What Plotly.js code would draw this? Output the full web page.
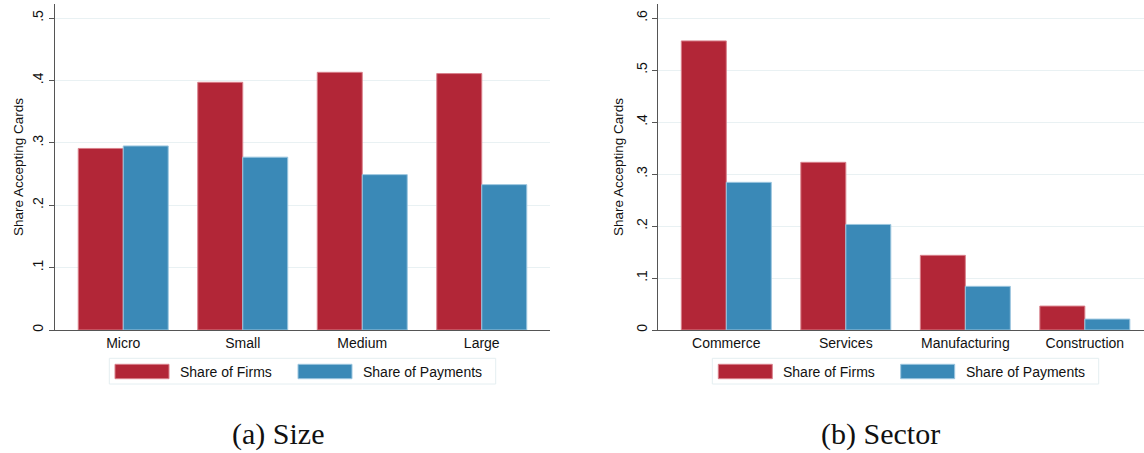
<!DOCTYPE html>
<html>
<head>
<meta charset="utf-8">
<script src="https://cdn.plot.ly/plotly-3.0.1.min.js"></script>
<style>
  html, body { margin: 0; padding: 0; background: #ffffff; }
  #chart { width: 1144px; height: 453px; }
</style>
</head>
<body>
<div id="chart"></div>
<script>
// Share of firms / payments accepting cards, by firm size and by sector
const sizeCategories = ["Micro", "Small", "Medium", "Large"];
const sizeFirms = [0.291, 0.397, 0.413, 0.411];
const sizePayments = [0.295, 0.277, 0.249, 0.233];

const sectorCategories = ["Commerce", "Services", "Manufacturing", "Construction"];
const sectorFirms = [0.556, 0.3225, 0.1436, 0.046];
const sectorPayments = [0.284, 0.203, 0.084, 0.021];

const seriesNames = ["Share of Firms", "Share of Payments"];
const sizeTickVals = [0, 0.1, 0.2, 0.3, 0.4, 0.5];
const sizeTickText = ["0", ".1", ".2", ".3", ".4", ".5"];
const sectorTickVals = [0, 0.1, 0.2, 0.3, 0.4, 0.5, 0.6];
const sectorTickText = ["0", ".1", ".2", ".3", ".4", ".5", ".6"];
const yTitle = "Share Accepting Cards";
const captions = ["(a) Size", "(b) Sector"];

const W = 1144, H = 453;
const RED = "#b22637", BLUE = "#3a89b7";
const RED_EDGE = "#d9808b", BLUE_EDGE = "#9cc6df";
const AXIS = "#555555", GRID = "#e9f1f3";
const SANS = "'Liberation Sans', Arial, Helvetica, sans-serif";
const px = x => x / W;
const py = y => 1 - y / H;

function bar(x, y, name, color, edge, xa, ya) {
  return {
    type: "bar", x: x, y: y, name: name, xaxis: xa, yaxis: ya,
    marker: { color: color, line: { color: edge, width: 1 } },
    showlegend: false, hoverinfo: "x+y+name"
  };
}

const data = [
  bar(sizeCategories, sizeFirms, seriesNames[0], RED, RED_EDGE, "x", "y"),
  bar(sizeCategories, sizePayments, seriesNames[1], BLUE, BLUE_EDGE, "x", "y"),
  bar(sectorCategories, sectorFirms, seriesNames[0], RED, RED_EDGE, "x2", "y2"),
  bar(sectorCategories, sectorPayments, seriesNames[1], BLUE, BLUE_EDGE, "x2", "y2")
];

function xAxis(domain, range) {
  return {
    domain: domain, range: range, type: "category",
    showline: true, linecolor: AXIS, linewidth: 1,
    ticks: "", showgrid: false, zeroline: false,
    tickfont: { family: SANS, size: 14, color: "#111" },
    fixedrange: true
  };
}
function yAxis(range, vals, text, anchor) {
  return {
    domain: [py(330), py(4)], range: range, anchor: anchor,
    tickvals: vals, ticktext: text, tickangle: -90,
    ticks: "outside", ticklen: 5, tickcolor: AXIS, tickwidth: 1,
    showline: true, linecolor: AXIS, linewidth: 1,
    showgrid: true, gridcolor: GRID, gridwidth: 1, zeroline: false,
    tickfont: { family: SANS, size: 14, color: "#111" },
    fixedrange: true
  };
}

const shapes = [];
const annotations = [];

// Hand-built legends below each panel
function legend(box, swatches, texts) {
  shapes.push({
    type: "rect", xref: "paper", yref: "paper",
    x0: px(box[0]), x1: px(box[1]), y0: py(box[3]), y1: py(box[2]),
    line: { color: "#e4eef1", width: 1 }, fillcolor: "rgba(0,0,0,0)"
  });
  const colors = [[RED, RED_EDGE], [BLUE, BLUE_EDGE]];
  swatches.forEach((sx, i) => {
    shapes.push({
      type: "rect", xref: "paper", yref: "paper",
      x0: px(sx), x1: px(sx + 54), y0: py(378.7), y1: py(364.3),
      fillcolor: colors[i][0], line: { color: colors[i][1], width: 1 }
    });
    annotations.push({
      xref: "paper", yref: "paper", x: px(texts[i]), y: py(371.5),
      xanchor: "left", yanchor: "middle", showarrow: false,
      text: seriesNames[i], font: { family: SANS, size: 14, color: "#111" }
    });
  });
}
legend([109.3, 495.7, 358.3, 384], [115, 298], [178.3, 360.7]);
legend([712.3, 1098.7, 358.3, 384], [718.3, 900.7], [781, 963.5]);

// Vertical axis titles
[18, 618].forEach(x => {
  annotations.push({
    xref: "paper", yref: "paper", x: px(x), y: py(167),
    xanchor: "center", yanchor: "middle", textangle: -90, showarrow: false,
    text: yTitle, font: { family: SANS, size: 13.5, color: "#111" }
  });
});

// Panel captions
[[278, captions[0]], [880.7, captions[1]]].forEach(([x, t]) => {
  annotations.push({
    xref: "paper", yref: "paper", x: px(x), y: py(434),
    xanchor: "center", yanchor: "middle", showarrow: false,
    text: t, font: { family: "'Liberation Serif', 'Times New Roman', serif", size: 30, color: "#111" }
  });
});

const layout = {
  width: W, height: H,
  margin: { l: 0, r: 0, t: 0, b: 0 },
  paper_bgcolor: "#ffffff", plot_bgcolor: "#ffffff",
  barmode: "group", bargap: 0.247, bargroupgap: 0,
  showlegend: false,
  xaxis: xAxis([px(55), px(550)], [-0.571, 3.571]),
  yaxis: yAxis([0, 0.5225], sizeTickVals, sizeTickText, "x"),
  xaxis2: Object.assign(xAxis([px(658.3), 1], [-0.569, 3.495]), { anchor: "y2" }),
  yaxis2: yAxis([0, 0.627], sectorTickVals, sectorTickText, "x2"),
  shapes: shapes,
  annotations: annotations
};
layout.xaxis.anchor = "y";

Plotly.newPlot("chart", data, layout, { displayModeBar: false, staticPlot: true });
</script>
</body>
</html>
